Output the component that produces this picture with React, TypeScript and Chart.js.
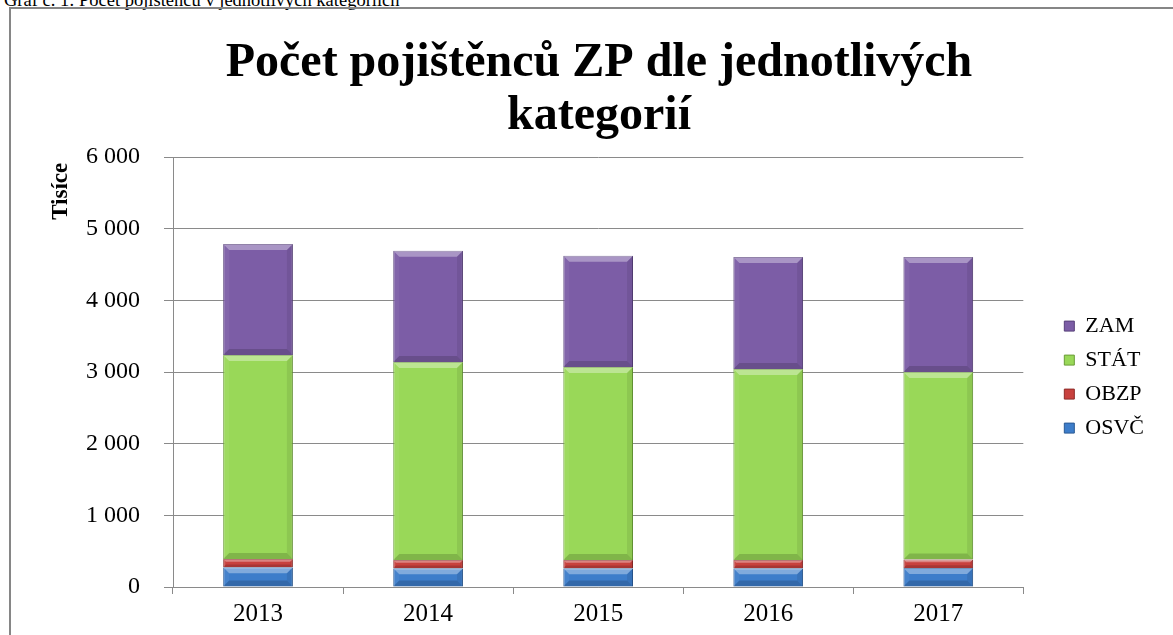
import React, { useEffect, useRef } from 'react';
import { Chart, registerables, layouts } from 'chart.js';

Chart.register(...registerables);

const captionText = 'Graf č. 1: Počet pojištěnců v jednotlivých kategoriích';
const chartTitle = ['Počet pojištěnců ZP dle jednotlivých', 'kategorií'];
const axisTitle = 'Tisíce';
const years = ['2013', '2014', '2015', '2016', '2017'];
const osvc = [275, 262, 262, 262, 265];
const obzp = [116, 115, 115, 115, 120];
const stat = [2846, 2762, 2693, 2665, 2615];
const zam = [1549, 1554, 1553, 1563, 1605];
const seriesNames = ['OSVČ', 'OBZP', 'STÁT', 'ZAM'];
const seriesColors = ['#3d7dca', '#c8413e', '#99d858', '#7c5da6'];
const seriesBorders = ['#2a5a94', '#8e2a28', '#6a9c38', '#57407a'];
const yMax = 6000;
const yStep = 1000;

const fmt = (v: number) => String(v).replace(/\B(?=(\d{3})+(?!\d))/g, '\u00a0');
const serif = '"Liberation Serif", "Times New Roman", serif';

const spacerPlugin = {
  id: 'rightSpacer',
  beforeInit(chart: any) {
    const box: any = {
      position: 'right',
      weight: 0,
      fullSize: false,
      options: {},
      left: 0, top: 0, right: 0, bottom: 0, width: 0, height: 0,
      update(maxW: number, maxH: number) { this.width = 29; this.height = maxH; },
      isHorizontal() { return false; },
      draw() {},
    };
    layouts.addBox(chart, box);
  },
};

const bevelPlugin = {
  id: 'bevel',
  afterDatasetsDraw(chart: any) {
    const ctx = chart.ctx;
    chart.data.datasets.forEach((_d: any, i: number) => {
      const meta = chart.getDatasetMeta(i);
      meta.data.forEach((el: any) => {
        const p = el.getProps(['x', 'y', 'base', 'width'], true);
        const l = p.x - p.width / 2;
        const r = p.x + p.width / 2;
        const t = Math.min(p.y, p.base);
        const b = Math.max(p.y, p.base);
        const h = b - t;
        const d = Math.min(6, h / 3);
        ctx.save();
        ctx.fillStyle = 'rgba(255,255,255,0.35)';
        ctx.beginPath();
        ctx.moveTo(l, t); ctx.lineTo(r, t); ctx.lineTo(r - d, t + d); ctx.lineTo(l + d, t + d); ctx.closePath();
        ctx.fill();
        ctx.fillStyle = 'rgba(0,0,0,0.16)';
        ctx.beginPath();
        ctx.moveTo(l, b); ctx.lineTo(r, b); ctx.lineTo(r - d, b - d); ctx.lineTo(l + d, b - d); ctx.closePath();
        ctx.fill();
        ctx.fillStyle = 'rgba(0,0,0,0.08)';
        ctx.beginPath();
        ctx.moveTo(r, t); ctx.lineTo(r, b); ctx.lineTo(r - d, b - d); ctx.lineTo(r - d, t + d); ctx.closePath();
        ctx.fill();
        ctx.fillStyle = 'rgba(255,255,255,0.05)';
        ctx.beginPath();
        ctx.moveTo(l, t); ctx.lineTo(l, b); ctx.lineTo(l + d, b - d); ctx.lineTo(l + d, t + d); ctx.closePath();
        ctx.fill();
        ctx.restore();
      });
    });
  },
};

export default function App() {
  const ref = useRef<HTMLCanvasElement>(null);
  useEffect(() => {
    if (!ref.current) return;
    const seriesValues = [osvc, obzp, stat, zam];
    const chart = new Chart(ref.current, {
      type: 'bar',
      data: {
        labels: years,
        datasets: seriesNames.map((name, i) => ({
          label: name,
          data: seriesValues[i],
          backgroundColor: seriesColors[i],
          borderColor: seriesBorders[i],
          borderWidth: 1,
          barPercentage: 0.41,
          categoryPercentage: 1,
        })),
      },
      options: {
        animation: false,
        responsive: false,
        maintainAspectRatio: false,
        layout: { padding: { left: 33, right: 19, top: 0, bottom: 0 } },
        plugins: {
          tooltip: { enabled: false },
          title: {
            display: true,
            text: chartTitle,
            color: '#000',
            font: { family: serif, size: 48, weight: 'bold', lineHeight: 1.1 },
            padding: { top: 28, bottom: 14.4 },
          },
          legend: {
            position: 'right',
            fullSize: false,
            reverse: true,
            title: { display: true, text: '', font: { size: 1 }, padding: 4.5 },
            labels: {
              boxWidth: 10,
              boxHeight: 10,
              padding: 12,
              color: '#000',
              font: { family: serif, size: 22 },
            },
          },
        },
        scales: {
          x: {
            stacked: true,
            afterFit: (s: any) => { s.height = 48; },
            grid: { offset: true, drawOnChartArea: false, drawTicks: true, tickLength: 7, color: '#8a8a8a' },
            border: { display: true, color: '#8a8a8a' },
            ticks: { color: '#000', padding: 5, font: { family: serif, size: 25 } },
          },
          y: {
            stacked: true,
            min: 0,
            max: yMax,
            afterFit: (s: any) => { s.width = 129; },
            grid: { color: '#8a8a8a', tickLength: 9, drawTicks: true },
            border: { display: true, color: '#8a8a8a' },
            ticks: {
              stepSize: yStep,
              padding: 24,
              color: '#000',
              font: { family: serif, size: 24 },
              callback: (v: any) => fmt(Number(v)),
            },
            title: {
              display: true,
              text: axisTitle + '\u00a0',
              align: 'end',
              color: '#000',
              font: { family: serif, size: 23, weight: 'bold' },
              padding: { top: 3, bottom: 4 },
            },
          },
        },
      },
      plugins: [spacerPlugin, bevelPlugin],
    });
    return () => chart.destroy();
  }, []);

  return (
    <div style={{ position: 'fixed', left: 0, top: 0, width: 1173, height: 635, overflow: 'hidden', background: '#fff' }}>
      <div style={{ position: 'absolute', left: 4, top: -9, whiteSpace: 'nowrap', font: `18.5px ${serif}`, lineHeight: '18px', color: '#000' }}>
        {captionText}
      </div>
      <div style={{ position: 'absolute', left: 9, top: 7, width: 1400, height: 900, borderTop: '2px solid #868686', borderLeft: '2px solid #868686' }} />
      <canvas ref={ref} width={1162} height={626} style={{ position: 'absolute', left: 11, top: 9, width: 1162, height: 626 }} />
    </div>
  );
}
